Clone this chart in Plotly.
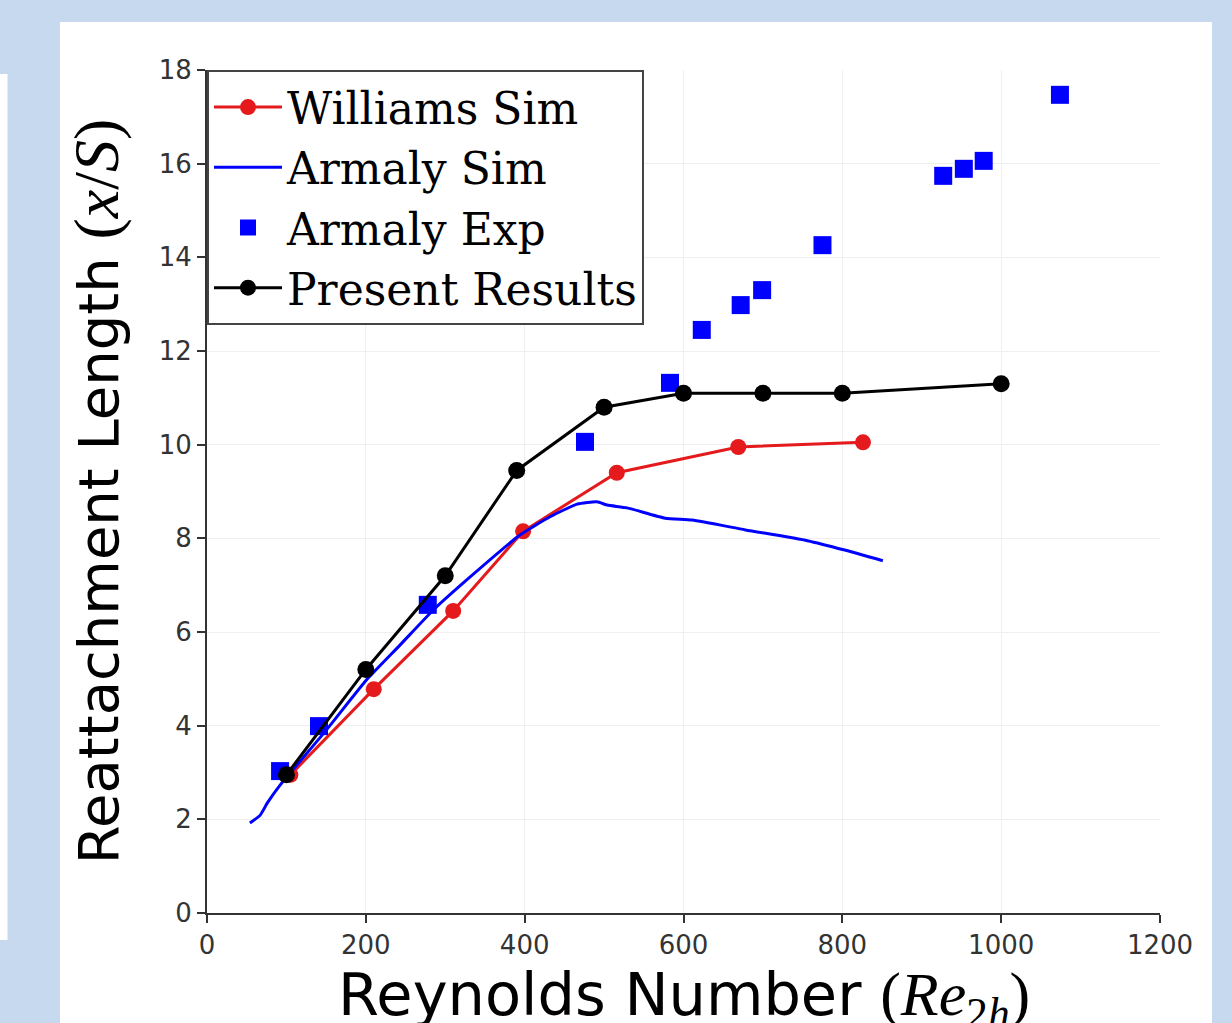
import plotly.graph_objects as go

# ---- data ----
williams_x = [105, 210, 310, 398, 516, 669, 826]
williams_y = [2.95, 4.78, 6.45, 8.15, 9.4, 9.95, 10.05]

armaly_sim_x = [54, 67, 76, 92, 150, 201, 243, 285, 331, 394, 432, 466, 491, 504, 529, 577, 611, 678, 756, 803, 851]
armaly_sim_y = [1.92, 2.09, 2.35, 2.73, 3.9, 4.98, 5.72, 6.47, 7.17, 8.07, 8.46, 8.73, 8.78, 8.71, 8.65, 8.43, 8.39, 8.18, 7.95, 7.75, 7.52]

armaly_exp_x = [92, 141, 278, 476, 583, 623, 672, 699, 775, 927, 953, 978, 1074]
armaly_exp_y = [3.03, 3.99, 6.58, 10.06, 11.32, 12.45, 12.98, 13.3, 14.26, 15.74, 15.89, 16.06, 17.47]

present_x = [100, 200, 300, 390, 500, 600, 700, 800, 1000]
present_y = [2.95, 5.2, 7.2, 9.45, 10.8, 11.1, 11.1, 11.1, 11.3]

x_ticks = [0, 200, 400, 600, 800, 1000, 1200]
y_ticks = [0, 2, 4, 6, 8, 10, 12, 14, 16, 18]

x_title = "Reynolds Number"
y_title = "Reattachment Length"

RED = "rgb(228,26,28)"
BLUE = "rgb(0,0,255)"
BG = "rgb(198,217,239)"
SERIF = "'Liberation Serif'"

fig = go.Figure()
fig.add_trace(go.Scatter(x=williams_x, y=williams_y, mode="lines+markers", name="Williams Sim",
                         line=dict(color=RED, width=3), marker=dict(color=RED, size=16)))
fig.add_trace(go.Scatter(x=armaly_sim_x, y=armaly_sim_y, mode="lines", name="Armaly Sim",
                         line=dict(color=BLUE, width=3, shape="spline", smoothing=0.5)))
fig.add_trace(go.Scatter(x=armaly_exp_x, y=armaly_exp_y, mode="markers", name="Armaly Exp",
                         marker=dict(color=BLUE, size=18, symbol="square")))
fig.add_trace(go.Scatter(x=present_x, y=present_y, mode="lines+markers", name="Present Results",
                         line=dict(color="black", width=3), marker=dict(color="black", size=17)))

L, R, T, B = 207, 72, 70, 110
W, H = 1232, 1023
pw, ph = W - L - R, H - T - B


def px2x(p):
    return (p - L) / pw


def px2y(p):
    return (H - B - p) / ph


fig.add_shape(type="rect", xref="paper", yref="paper", layer="below",
              x0=px2x(60), x1=px2x(1212), y0=px2y(1040), y1=px2y(22),
              fillcolor="white", line=dict(width=0))
fig.add_shape(type="rect", xref="paper", yref="paper", layer="below",
              x0=px2x(-10), x1=px2x(7.5), y0=px2y(940), y1=px2y(74),
              fillcolor="white", line=dict(width=0))

fig.add_annotation(xref="paper", yref="paper", x=0.5, y=px2y(958),
                   xanchor="center", yanchor="top", showarrow=False,
                   text=x_title + " <span style=\"font-family:" + SERIF + ";font-size:62px\">(<i>Re</i><sub>2<i>h</i></sub>)</span>",
                   font=dict(family="DejaVu Sans", size=59, color="black"))

fig.update_layout(
    width=W, height=H,
    margin=dict(l=L, r=R, t=T, b=B, pad=0, autoexpand=False),
    paper_bgcolor=BG, plot_bgcolor="white",
    showlegend=True,
    legend=dict(x=0, y=1, xanchor="left", yanchor="top",
                bgcolor="white", bordercolor="#444", borderwidth=2,
                font=dict(family="DejaVu Serif", size=44, color="black"),
                itemwidth=68, tracegroupgap=0),
    xaxis=dict(range=[0, 1200], tickvals=x_ticks, ticktext=[str(v) for v in x_ticks],
               showline=True, linecolor="#333", linewidth=2, automargin=False,
               ticks="outside", ticklen=8, tickwidth=1.5, tickcolor="#333",
               showgrid=True, gridcolor="#efefef", gridwidth=1, zeroline=False,
               tickfont=dict(family="DejaVu Sans", size=26, color="#333")),
    yaxis=dict(range=[0, 18], tickvals=y_ticks, ticktext=[str(v) for v in y_ticks],
               showline=True, linecolor="#333", linewidth=2, automargin=False,
               ticks="outside", ticklen=8, tickwidth=1.5, tickcolor="#333",
               showgrid=True, gridcolor="#efefef", gridwidth=1, zeroline=False,
               tickfont=dict(family="DejaVu Sans", size=26, color="#333"),
               title=dict(text=y_title + " <span style=\"font-family:" + SERIF + ";font-size:64px\">(<i>x</i>/<i>S</i>)</span>",
                          font=dict(family="DejaVu Sans", size=56, color="black"), standoff=22)),
)

fig.write_html("out.html")
